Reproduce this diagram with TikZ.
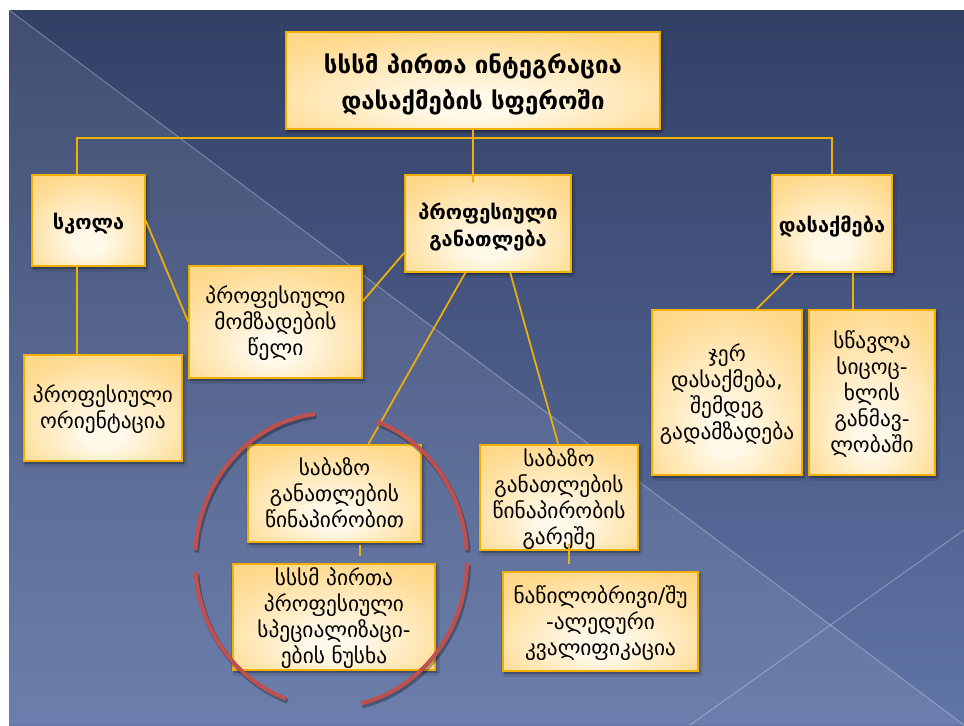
\documentclass[tikz,border=0pt]{standalone}
\usepackage{fontspec}
\setmainfont{DejaVu Sans}
\usetikzlibrary{fit,calc,shadows.blur}
\definecolor{bgtop}{RGB}{50,64,102}
\definecolor{bgbot}{RGB}{96,116,166}
\definecolor{boxin}{RGB}{255,249,234}
\definecolor{boxout}{RGB}{255,216,138}
\definecolor{boxline}{RGB}{240,176,0}
\definecolor{connc}{RGB}{240,176,10}
\definecolor{ringc}{RGB}{192,80,77}
\pgfdeclareradialshading{boxshade}{\pgfpoint{0bp}{-14bp}}{color(0bp)=(boxin); color(6bp)=(boxin); color(34bp)=(boxout); color(60bp)=(boxout)}
% text block of zero height and depth, centred on the node centre
\newcommand{\myLowered}[2]{\raisebox{#1}[0pt][0pt]{\begin{tabular}[c]{@{}c@{}}#2\end{tabular}}}
\newcommand{\myTitleLines}[1]{\myLowered{-7pt}{#1}}
\newcommand{\myHeadLines}[1]{\myLowered{-6.5pt}{#1}}
\newcommand{\myBodyLines}[1]{\myLowered{-6.2pt}{#1}}
\tikzset{
  box/.style={draw=boxline, line width=1.1pt, inner sep=0pt,
    shading=boxshade, text=black,
    blur shadow={shadow xshift=1.2pt, shadow yshift=-1.8pt, shadow blur steps=6, shadow opacity=55}},
  titletext/.style={font=\bfseries\fontsize{18}{27.5}\selectfont},
  headtext/.style={font=\bfseries\fontsize{15}{20}\selectfont},
  bodytext/.style={font=\fontsize{16}{19.5}\selectfont},
  conn/.style={draw=connc, line width=1.3pt},
  ring/.style={draw=ringc, line width=3pt},
  ringshadow/.style={draw=black, opacity=0.3, line width=3.6pt},
}
\begin{document}
\begin{tikzpicture}[x=0.75pt, y=-0.75pt]
\useasboundingbox (0,0) rectangle (964,725);
% background
\fill[top color=bgtop, bottom color=bgbot] (9,10) rectangle (964,725);
\fill[white, opacity=0.08] (9,10) -- (964,725) -- (9,725) -- cycle;
\draw[white, opacity=0.28, line width=0.8pt] (9,10) -- (964,725);
\draw[white, opacity=0.28, line width=0.8pt] (964,530) -- (690,725);

% bus coordinates
\coordinate (bus) at (473,138);
\coordinate (kL) at (77,138);

% nodes
\node[box, titletext, fit={(286,32) (660,129)}] (title) {\myTitleLines{სსსმ პირთა ინტეგრაცია\\დასაქმების სფეროში}};
\node[box, headtext, fit={(32,175) (145,266)}] (skola) {\myHeadLines{სკოლა}};
\node[box, headtext, fit={(405,175) (571,272)}] (profgan) {\myHeadLines{პროფესიული\\განათლება}};
\node[box, headtext, fit={(772,175) (892,272)}] (dasaq) {\myHeadLines{დასაქმება}};
\node[box, bodytext, fit={(189,266) (362,378)}] (momz) {\myBodyLines{პროფესიული\\მომზადების\\წელი}};
\node[box, bodytext, fit={(24,355) (182,461)}] (orient) {\myBodyLines{პროფესიული\\ორიენტაცია}};
\node[box, bodytext, fit={(652,310) (802,475)}] (jer) {\myBodyLines{ჯერ\\დასაქმება,\\შემდეგ\\გადამზადება}};
\node[box, bodytext, fit={(809,310) (935,475)}] (stsavla) {\myBodyLines{სწავლა\\სიცოც-\\ხლის\\განმავ-\\ლობაში}};
\node[box, bodytext, fit={(248,445) (421,542)}] (sab1) {\myBodyLines{საბაზო\\განათლების\\წინაპირობით}};
\node[box, bodytext, fit={(480,445) (638,550)}] (sab2) {\myBodyLines{საბაზო\\განათლების\\წინაპირობის\\გარეშე}};
\node[box, bodytext, fit={(233,564) (435,670)}] (nuskha) {\myBodyLines{სსსმ პირთა\\პროფესიული\\სპეციალიზაცი-\\ების ნუსხა}};
\node[box, bodytext, fit={(503,572) (698,671)}] (natsil) {\myBodyLines{ნაწილობრივი/შუ\\-ალედური\\კვალიფიკაცია}};

% connectors
\draw[conn] (title.south) -- ($(title.south |- profgan.north)+(0,8)$);
\draw[conn] (kL |- skola.north) -- (kL) -- (dasaq.north |- bus) -- (dasaq.north);
\draw[conn] (kL |- skola.south) -- (kL |- orient.north);
\draw[conn] (skola.east) -- (momz.west);
\draw[conn] ($(profgan.south west)+(0,-20)$) -- ($(momz.north east)+(0,36)$);
\draw[conn] ($(profgan.south west)+(61,0)$) -- ($(sab1.north west)+(121,0)$);
\draw[conn] ($(profgan.south west)+(106,0)$) -- ($(sab2.north west)+(79,0)$);
\draw[conn] ($(sab1.south west)+(113,2)$) -- ($(nuskha.north west)+(128,-7)$);
\draw[conn] ($(sab2.south west)+(90,-7)$) -- ($(natsil.north west)+(67,-7)$);
\draw[conn] ($(dasaq.south west)+(22,0)$) -- ($(jer.north west)+(105,0)$);
\draw[conn] ($(dasaq.south west)+(82,0)$) -- ($(stsavla.north west)+(45,0)$);

% red ring made of four arcs
\foreach \a/\b in {3.9/70.2, 96.8/176.1, 184.7/250.7, 282.7/358.8}{
  \draw[ringshadow, shift={(1.5,2.5)}] plot[domain=\a:\b, samples=40, variable=\t] ({331+136*cos(\t)},{560-147*sin(\t)});
}
\foreach \a/\b in {3.9/70.2, 96.8/176.1, 184.7/250.7, 282.7/358.8}{
  \draw[ring] plot[domain=\a:\b, samples=40, variable=\t] ({331+136*cos(\t)},{560-147*sin(\t)});
}
\end{tikzpicture}
\end{document}
